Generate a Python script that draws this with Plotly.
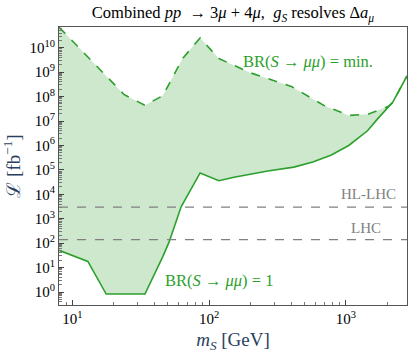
import numpy as np
import plotly.graph_objects as go

# BR(S -> mu mu) = min.  (upper, dashed)
m_min = [8, 24, 34, 46, 64, 86, 118, 200, 400, 700, 1050, 1450, 2050, 2200, 2800]
lumi_min = [7e10, 1.2e8, 4.4e7, 1.1e8, 3.6e9, 2.5e10, 3.6e9, 9.5e8, 2.6e8, 4.2e7,
            1.7e7, 1.9e7, 4e7, 5.8e7, 7e8]

# BR(S -> mu mu) = 1  (lower, solid)
m_one = [8, 13, 17.7, 34, 46, 51, 62.5, 86, 118, 152, 269, 417, 573, 777, 1050,
         1440, 1700, 2200, 2800]
lumi_one = [51, 18, 0.83, 0.83, 29, 110, 3100, 7.5e4, 3.6e4, 5e4, 9e4, 1.3e5,
            2.1e5, 4e5, 1e6, 4e6, 1.2e7, 5.8e7, 7e8]

# reference luminosities
lumi_ref = {"HL-LHC": 3000, "LHC": 140}

x_decades = [1, 2, 3]
y_decades = list(range(0, 11))

GREEN = "#2ca02c"
FONT = "Liberation Serif"


def minor_vals(decades):
    lo, hi = decades[0] - 1, decades[-1] + 1
    return [d * 10.0 ** e for e in range(lo, hi + 1) for d in range(2, 10)]


fig = go.Figure()

# shaded band between the two curves
fig.add_trace(go.Scatter(
    x=m_min + m_one[::-1],
    y=lumi_min + lumi_one[::-1],
    fill="toself",
    fillcolor="rgba(44,160,44,0.24)",
    line=dict(width=0),
    mode="lines",
    hoverinfo="skip",
    showlegend=False,
))

fig.add_trace(go.Scatter(
    x=m_min, y=lumi_min, mode="lines",
    line=dict(color=GREEN, width=1.6, dash="dash"),
    showlegend=False,
))
fig.add_trace(go.Scatter(
    x=m_one, y=lumi_one, mode="lines",
    line=dict(color=GREEN, width=1.6),
    showlegend=False,
))

for name, val in lumi_ref.items():
    fig.add_hline(y=val, line_color="gray", line_width=1.2, line_dash="dash")

# labels
fig.add_annotation(x=np.log10(525), y=9.43, text="BR(<i>S</i> → <i>μμ</i>) = min.",
                   showarrow=False, font=dict(color=GREEN, size=16.5, family=FONT))
fig.add_annotation(x=np.log10(118), y=0.49, text="BR(<i>S</i> → <i>μμ</i>) = 1",
                   showarrow=False, font=dict(color=GREEN, size=16.5, family=FONT))
fig.add_annotation(x=0.975, xref="paper", xanchor="right", y=np.log10(lumi_ref["HL-LHC"]) + 0.52,
                   text="HL-LHC", showarrow=False, font=dict(color="gray", size=15, family=FONT))
fig.add_annotation(x=0.93, xref="paper", xanchor="right", y=np.log10(lumi_ref["LHC"]) + 0.48,
                   text="LHC", showarrow=False, font=dict(color="gray", size=15, family=FONT))

axis_common = dict(
    type="log",
    showgrid=False,
    zeroline=False,
    showline=True,
    linecolor="#555",
    linewidth=1,
    mirror=True,
    ticks="inside",
    ticklen=5,
    tickwidth=1,
    tickcolor="#444",
    tickfont=dict(family=FONT, size=15, color="black"),
)

fig.update_xaxes(
    **axis_common,
    range=[np.log10(8), np.log10(2800)],
    tickmode="array",
    tickvals=[10 ** d for d in x_decades],
    ticktext=[f"10<sup>{d}</sup>" for d in x_decades],
    minor=dict(ticks="inside", ticklen=3, tickcolor="#777", tickmode="array",
               tickvals=minor_vals(x_decades), showgrid=False),
    title=dict(text="<i>m<sub>S</sub></i> [GeV]", font=dict(family=FONT, size=19), standoff=6),
)
fig.update_yaxes(
    **axis_common,
    range=[-0.53, 10.85],
    tickmode="array",
    tickvals=[10 ** d for d in y_decades],
    ticktext=[f"10<sup>{d}</sup>" for d in y_decades],
    minor=dict(ticks="inside", ticklen=3, tickcolor="#777", tickmode="array",
               tickvals=minor_vals(y_decades), showgrid=False),
    title=dict(text="ℒ [fb<sup>−1</sup>]", font=dict(family=FONT, size=19), standoff=4),
)

fig.update_layout(
    width=408,
    height=359,
    margin=dict(l=59, r=1, t=27, b=54),
    plot_bgcolor="white",
    paper_bgcolor="white",
    font=dict(family=FONT),
    title=dict(
        text="Combined <i>pp</i>  → 3<i>μ</i> + 4<i>μ</i>,  <i>g<sub>S</sub></i> resolves Δ<i>a<sub>μ</sub></i>",
        x=0.5, xref="paper", xanchor="center", y=0.965, yanchor="middle",
        font=dict(family=FONT, size=16.5, color="black"),
    ),
)

# page body has a default margin; drop it so the figure fills the window
fig.write_html("out.html", config={"displayModeBar": False},
               post_script="document.body.style.margin='0';")
